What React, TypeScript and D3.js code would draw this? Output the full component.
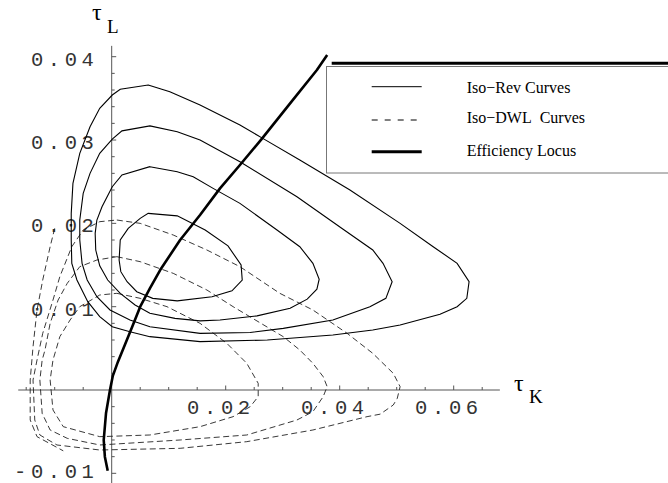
import React from "react";
import * as d3 from "d3";

type Pt = [number, number];

// Iso-revenue contours (tau_K, tau_L), innermost first
const isoRev1: Pt[] = [
  [0.0064, 0.0212], [0.0115, 0.0209], [0.0164, 0.0192], [0.0204, 0.0173], [0.0227, 0.015],
  [0.0229, 0.0132], [0.0211, 0.0119], [0.0176, 0.0112], [0.0115, 0.0107], [0.0072, 0.011],
  [0.0044, 0.0118], [0.0027, 0.013], [0.0016, 0.0142], [0.0013, 0.0156], [0.0015, 0.018],
  [0.0029, 0.0194], [0.005, 0.0206],
];
const isoRev2: Pt[] = [
  [0.0067, 0.0268], [0.0115, 0.0262], [0.0143, 0.0256], [0.0178, 0.0242], [0.0225, 0.0224],
  [0.029, 0.0192], [0.033, 0.0172], [0.0353, 0.0152], [0.0364, 0.0133], [0.036, 0.0121],
  [0.0343, 0.0109], [0.0313, 0.0098], [0.0255, 0.0089], [0.019, 0.0084], [0.0155, 0.0083],
  [0.0111, 0.0086], [0.0067, 0.0092], [0.0041, 0.0102], [0.0015, 0.0116], [-0.0007, 0.0132],
  [-0.0021, 0.0149], [-0.0028, 0.0168], [-0.0029, 0.0188], [-0.0026, 0.0204], [-0.0017, 0.022],
  [0.0001, 0.0244], [0.0018, 0.0258],
];
const isoRev3: Pt[] = [
  [0.0067, 0.0317], [0.0115, 0.031], [0.0155, 0.03], [0.0225, 0.0274], [0.0325, 0.0232],
  [0.0406, 0.0193], [0.0458, 0.0168], [0.0476, 0.0152], [0.0492, 0.013], [0.0481, 0.011],
  [0.0453, 0.01], [0.0388, 0.0084], [0.0301, 0.0074], [0.0243, 0.0069], [0.0155, 0.0068],
  [0.0067, 0.0076], [0.0032, 0.0084], [-0.0003, 0.0096], [-0.0026, 0.0112], [-0.0043, 0.0132],
  [-0.0052, 0.0152], [-0.0056, 0.018], [-0.0056, 0.0204], [-0.005, 0.0236], [-0.0038, 0.026],
  [-0.0021, 0.0284], [0.0001, 0.0301], [0.0018, 0.0311],
];
const isoRev4: Pt[] = [
  [0.0064, 0.0366], [0.0102, 0.0358], [0.0155, 0.0342], [0.0225, 0.0318], [0.0265, 0.0302],
  [0.033, 0.0276], [0.0418, 0.024], [0.0506, 0.02], [0.0564, 0.0172], [0.0606, 0.0152],
  [0.0627, 0.013], [0.0623, 0.011], [0.0606, 0.01], [0.0576, 0.0091], [0.0506, 0.0078],
  [0.0458, 0.0072], [0.0388, 0.0066], [0.0273, 0.006], [0.0155, 0.0058], [0.0067, 0.0064],
  [0.0032, 0.007], [0.0001, 0.0076], [-0.0021, 0.0088], [-0.0042, 0.0106], [-0.0061, 0.0132],
  [-0.007, 0.0152], [-0.0071, 0.018], [-0.0071, 0.0212], [-0.0068, 0.0248], [-0.0056, 0.0284],
  [-0.0038, 0.0316], [-0.0021, 0.0338], [0.0001, 0.0354], [0.0015, 0.0361],
];

// Iso-deadweight-loss contours, outermost closed one first
const isoDwlA: Pt[] = [
  [0.0009, 0.0204], [0.005, 0.02], [0.0108, 0.0186], [0.0167, 0.0168], [0.0225, 0.0148],
  [0.0295, 0.0116], [0.0353, 0.0096], [0.0413, 0.0068], [0.0458, 0.0044], [0.0494, 0.002],
  [0.0506, 0.0004], [0.0501, -0.001], [0.0494, -0.0018], [0.0471, -0.0029], [0.0448, -0.0032],
  [0.0353, -0.0048], [0.0237, -0.0062], [0.012, -0.007], [-0.0021, -0.0072], [-0.0096, -0.0066],
  [-0.0126, -0.0054], [-0.0135, -0.0036], [-0.0138, 0.0012], [-0.0131, 0.0036], [-0.0121, 0.0068],
  [-0.0103, 0.0108], [-0.0091, 0.0136], [-0.007, 0.0172], [-0.005, 0.0192], [-0.0021, 0.0202],
];
const isoDwlB: Pt[] = [
  [0.0009, 0.016], [0.005, 0.0154], [0.0108, 0.014], [0.0167, 0.012], [0.0213, 0.01],
  [0.0301, 0.0064], [0.033, 0.0048], [0.0353, 0.0032], [0.0371, 0.0016], [0.0378, 0.0004],
  [0.0371, -0.0008], [0.0353, -0.0026], [0.0325, -0.0036], [0.0237, -0.0054], [0.012, -0.006],
  [-0.0021, -0.0066], [-0.0078, -0.0058], [-0.0108, -0.0048], [-0.0122, -0.0028], [-0.0126, 0.0012],
  [-0.0122, 0.0036], [-0.0117, 0.0048], [-0.0108, 0.008], [-0.0094, 0.0108], [-0.0078, 0.0128],
  [-0.0056, 0.0148], [-0.0026, 0.0156],
];
const isoDwlC: Pt[] = [
  [0.0009, 0.0116], [0.005, 0.011], [0.0097, 0.01], [0.0155, 0.008], [0.0202, 0.0056],
  [0.0237, 0.0032], [0.0257, 0.0008], [0.0257, -0.0008], [0.0243, -0.002], [0.0213, -0.0032],
  [0.0155, -0.0044], [0.0067, -0.0054], [-0.0021, -0.0056], [-0.0085, -0.0044], [-0.0103, -0.0024],
  [-0.0108, 0.0012], [-0.0103, 0.0036], [-0.0091, 0.0064], [-0.0073, 0.0084], [-0.0056, 0.01],
  [-0.0021, 0.0114],
];
// outer DWL contour, cut off by the plotted region
const isoDwlOuter: Pt[] = [
  [-0.01, 0.0194], [-0.0108, 0.0172], [-0.0121, 0.0132], [-0.0131, 0.0096], [-0.0138, 0.0052],
  [-0.0143, 0.0012], [-0.0143, -0.0036], [-0.0131, -0.0056], [-0.0085, -0.0073],
];

const efficiencyLocus: Pt[] = [
  [0.0378, 0.0402], [0.036, 0.0384], [0.0313, 0.0344], [0.0264, 0.0302], [0.0225, 0.027],
  [0.019, 0.0242], [0.0155, 0.021], [0.012, 0.018], [0.0085, 0.0144], [0.0067, 0.0122],
  [0.005, 0.01], [0.0036, 0.0076], [0.0023, 0.0054], [0.0011, 0.0034], [0.0002, 0.0017],
  [-0.0003, 0.0], [-0.001, -0.0028], [-0.0014, -0.006], [-0.0012, -0.008], [-0.0007, -0.0097],
];

const xTickLabels = [0.02, 0.04, 0.06];
const yTickLabels = [-0.01, 0.01, 0.02, 0.03, 0.04];
const legendLabels = ["Iso\u2212Rev Curves", "Iso\u2212DWL\u00A0 Curves", "Efficiency Locus"];

const W = 668;
const H = 483;

const fmt = (v: number) => (v < 0 ? "-" : "") + Math.abs(v).toFixed(2);

export default function App() {
  React.useEffect(() => {
    document.body.style.margin = "0";
  }, []);

  const x = d3.scaleLinear().domain([0, 0.06]).range([111.7, 453.7]);
  const y = d3.scaleLinear().domain([0, 0.04]).range([390, 56.7]);

  const closed = d3
    .line<Pt>()
    .x((d) => x(d[0]))
    .y((d) => y(d[1]))
    .curve(d3.curveLinearClosed);
  const open = d3
    .line<Pt>()
    .x((d) => x(d[0]))
    .y((d) => y(d[1]))
    .curve(d3.curveLinear);

  const x0 = x(0);
  const y0 = y(0);
  const xTicks = d3.range(-3, 14).filter((i) => i !== 0);
  const yTicks = d3.range(-5, 21).filter((i) => i !== 0);

  const monoFont = "'Liberation Mono', 'DejaVu Sans Mono', monospace";
  const serif = "'Liberation Serif', 'Times New Roman', serif";
  const lblSize = 20.5;
  const lblSpace = 4.6;

  const legendY = [86.7, 120, 151.7];
  const legendBase = [92.7, 123.3, 156];

  return (
    <svg
      width={W}
      height={H}
      viewBox={`0 0 ${W} ${H}`}
      style={{ position: "absolute", left: 0, top: 0, background: "#fff", display: "block" }}
    >
      <rect x={0} y={0} width={W} height={H} fill="#fff" />

      {/* axes */}
      <g stroke="#555" strokeWidth={1} fill="none">
        <line x1={x(-0.0164)} x2={x(0.0681)} y1={y0} y2={y0} />
        <line x1={x0} x2={x0} y1={y(-0.0112)} y2={y(0.0413)} />
        {xTicks.map((i) => {
          const px = x(i * 0.005);
          const len = i % 4 === 0 ? 4.5 : 3;
          return <line key={"xt" + i} x1={px} x2={px} y1={y0} y2={y0 - len} />;
        })}
        {yTicks.map((i) => {
          const py = y(i * 0.002);
          const len = i % 5 === 0 ? 4.5 : 3;
          return <line key={"yt" + i} x1={x0} x2={x0 + len} y1={py} y2={py} />;
        })}
      </g>

      {/* tick labels */}
      <g fontFamily={monoFont} fontSize={lblSize} fill="#333" style={{ letterSpacing: lblSpace + "px" }}>
        {xTickLabels.map((v) => (
          <text key={"xl" + v} x={x(v) - 4.8} y={414} textAnchor="middle">
            {fmt(v)}
          </text>
        ))}
        {yTickLabels.map((v) => (
          <text key={"yl" + v} x={98.5} y={Math.min(y(v) + 9, 478)} textAnchor="end">
            {fmt(v)}
          </text>
        ))}
      </g>

      {/* axis labels */}
      <g fontFamily={serif} fill="#000">
        <text x={92} y={20} fontSize={24}>τ</text>
        <text x={107} y={33} fontSize={19}>L</text>
        <text x={514} y={391} fontSize={24}>τ</text>
        <text x={529} y={403} fontSize={19}>K</text>
      </g>

      {/* iso-DWL curves */}
      <g fill="none" stroke="#222" strokeWidth={0.9} strokeDasharray="6 3.5">
        {[isoDwlA, isoDwlB, isoDwlC].map((c, i) => (
          <path key={"dwl" + i} d={closed(c) || ""} />
        ))}
        <path d={open(isoDwlOuter) || ""} />
      </g>

      {/* iso-revenue curves */}
      <g fill="none" stroke="#000" strokeWidth={1.1}>
        {[isoRev1, isoRev2, isoRev3, isoRev4].map((c, i) => (
          <path key={"rev" + i} d={closed(c) || ""} />
        ))}
      </g>

      {/* efficiency locus */}
      <path d={open(efficiencyLocus) || ""} fill="none" stroke="#000" strokeWidth={2.6} strokeLinejoin="round" />

      {/* legend */}
      <g>
        <line x1={331.7} x2={W} y1={63.3} y2={63.3} stroke="#000" strokeWidth={3} />
        <rect x={326.5} y={66.5} width={400} height={106.5} fill="#fff" stroke="#777" strokeWidth={1} />
        <line x1={371.7} x2={421.7} y1={legendY[0]} y2={legendY[0]} stroke="#000" strokeWidth={1} />
        <line
          x1={371.7}
          x2={421.7}
          y1={legendY[1]}
          y2={legendY[1]}
          stroke="#000"
          strokeWidth={1}
          strokeDasharray="6 7"
        />
        <line x1={371.7} x2={421.7} y1={legendY[2]} y2={legendY[2]} stroke="#000" strokeWidth={3} />
        <g fontFamily={serif} fontSize={16} fill="#000">
          {legendLabels.map((t, i) => (
            <text key={t} x={466.7} y={legendBase[i]}>
              {t}
            </text>
          ))}
        </g>
      </g>
    </svg>
  );
}
